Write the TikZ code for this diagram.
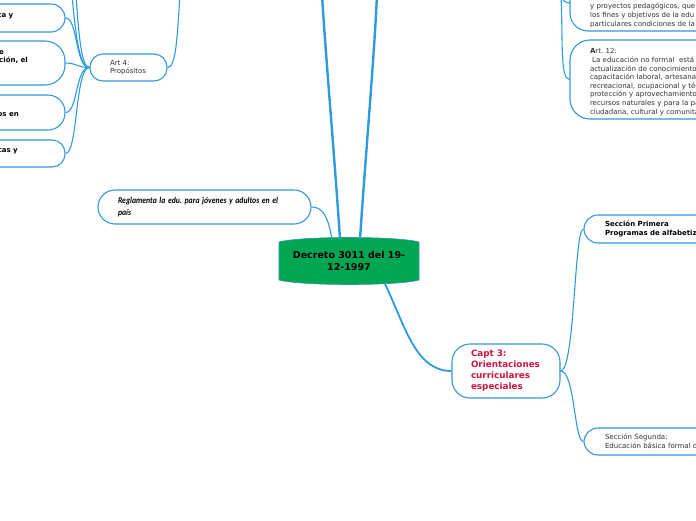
\documentclass[tikz,border=0pt]{standalone}
\usepackage{graphicx}
\usepackage{fontspec}
\setmainfont{DejaVu Sans}
\newfontfamily\carlito{Carlito}
\definecolor{lineblue}{HTML}{2E9BDC}
\definecolor{boxblue}{HTML}{3398DA}
\definecolor{centgreen}{HTML}{00A651}
\definecolor{centedge}{HTML}{3C8FC0}
\definecolor{capred}{HTML}{CC1440}
\definecolor{txtgray}{HTML}{333333}
\begin{document}
\frenchspacing
\begin{tikzpicture}[x=1pt,y=-1pt,
  box/.style={draw=boxblue, line width=1.1pt, fill=white, rounded corners=#1, inner ysep=0pt, align=left},
  box/.default=13pt,
  txt7/.style={font=\fontsize{7}{8.6}\selectfont, text=txtgray},
  frag/.style={font=\bfseries\fontsize{7}{8.6}\selectfont, anchor=base east, inner sep=0pt},
  link/.style={draw=lineblue, line width=1.1pt},
  mainlink/.style={draw=lineblue, line width=2.4pt}]
\useasboundingbox (0,0) rectangle (696,520);
\clip (0,0) rectangle (696,520);

% central topic
\path[fill=centgreen, draw=centedge, line width=0.6pt]
  (279,242) -- (279,280) .. controls (300,286) and (398,286) .. (419,280)
  -- (419,242) .. controls (398,236) and (300,236) .. (279,242) -- cycle;
\node[font=\bfseries\fontsize{9.5}{11.5}\selectfont, align=center, inner sep=0pt] (center) at (349,261) {Decreto 3011 del 19-\\12-1997};
\coordinate (cT0) at (332,239.5);
\coordinate (cT1) at (340,239);
\coordinate (cT2) at (360,239);
\coordinate (cB) at (385,284);
\coordinate (upL) at (322,-5);
\coordinate (upR) at (377,-5);

% left branch
\node[box=13pt, minimum height=27pt, inner xsep=20pt, text width=37pt, txt7] (art4) at (128.5,67.5) {Art 4:\\Propósitos};
\coordinate (art4up) at (180,-5);
\coordinate (a4u1) at (72,-5);
\coordinate (a4u2) at (76,-5);

\node[box=14pt, minimum width=125pt, minimum height=28pt] (lA) at (2.5,18) {};
\node[box=20pt, minimum width=125pt, minimum height=44pt] (lB) at (2.5,63) {};
\node[box=17pt, minimum width=125pt, minimum height=35pt] (lC) at (2.5,112.5) {};
\node[box=13pt, minimum width=125pt, minimum height=27pt] (lD) at (2.5,153.5) {};
\node[frag] (fA) at (13.5,17.5) {ca y};
\node[frag] (fB1) at (4,54) {e};
\node[frag] (fB2) at (28,62.5) {ción, el};
\node[frag] (fC) at (19,116.5) {os en};
\node[frag] (fD) at (18,152.5) {cas y};

\node[box=17pt, minimum height=34pt, inner xsep=20pt, text width=173pt,
  font=\carlito\bfseries\itshape\fontsize{8.8}{12.5}\selectfont] (regl) at (204.5,207)
  {\scalebox{0.88}[1]{Reglamenta la edu. para jóvenes y adultos en el}\\\scalebox{0.88}[1]{país}};

% right top
\node[box=18pt, minimum width=200pt, minimum height=76pt] (boxE) at (670,-7) {};
\node[txt7, anchor=north west, align=left, inner sep=0pt] (tE) at (590,3)
  {\fontsize{7}{9}\selectfont y proyectos pedagógicos, que\\los fines y objetivos de la edu\\particulares condiciones de la};
\node[box=20pt, minimum height=79pt, inner xsep=20pt, text width=160pt, txt7] (boxF) at (670,79.5)
  {\rule{0pt}{10.5pt}\textbf{A}rt. 12:\\\hspace*{2.2pt}La educación no formal\ \ está\\actualización de conocimientos\\capacitación laboral, artesanal\\recreacional, ocupacional y téc\\protección y aprovechamiento\\recursos naturales y para la pa\\ciudadana, cultural y comunita};
\coordinate (rt) at (561,-5);
\coordinate (eIn) at (570,3);

% right bottom
\node[box=18pt, minimum height=54pt, inner xsep=19pt, text width=70pt,
  font=\bfseries\fontsize{8.8}{11}\selectfont, text=capred] (capt) at (506,371)
  {Capt 3:\\Orientaciones\\curriculares\\especiales};
\node[box=14pt, minimum height=28pt, inner xsep=21pt, text width=154pt,
  font=\bfseries\fontsize{7}{8.6}\selectfont, text=black] (sec1) at (682,229)
  {Sección Primera\\Programas de alfabetiz};
\node[box=14pt, minimum height=27pt, inner xsep=21pt, text width=154pt, txt7] (sec2) at (682,441.5)
  {Sección Segunda:\\Educación básica formal d};

% connectors
\draw[mainlink] (cT1) .. controls (334,150) and (326,60) .. (upL);
\draw[mainlink] (cT2) .. controls (366,150) and (374,60) .. (upR);
\draw[link] (cT0) .. controls (328,215) and (322,207) .. (regl.east);
\draw[mainlink, line width=1.8pt] (cB) .. controls (405,325) and (415,371) .. (capt.west);
\draw[link] (capt.east) .. controls (575,371) and (574,229) .. (sec1.west);
\draw[link] (capt.east) .. controls (575,371) and (574,441.5) .. (sec2.west);
\draw[link] (art4.east) .. controls (176,67) and (177,40) .. (art4up);
\draw[link] (art4.west) .. controls (80,67.5) and (76,40) .. (a4u1);
\draw[link] (art4.west) .. controls (82,67.5) and (79,40) .. (a4u2);
\draw[link] (art4.west) .. controls (75,67.5) and (78,18) .. (lA.east);
\draw[link] (art4.west) .. controls (78,67.5) and (76,63) .. (lB.east);
\draw[link] (art4.west) .. controls (75,67.5) and (78,112.5) .. (lC.east);
\draw[link] (art4.west) .. controls (75,67.5) and (78,153.5) .. (lD.east);
\draw[link] (rt) .. controls (562,0) and (565,3) .. (eIn);
\draw[link] (rt) .. controls (563,40) and (560,79.5) .. (boxF.west);
\end{tikzpicture}
\end{document}
